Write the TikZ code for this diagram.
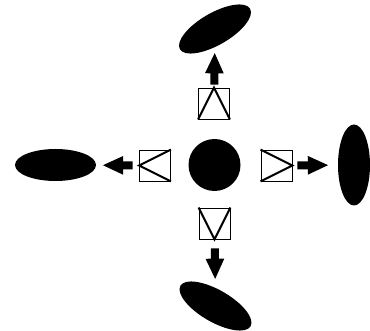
\documentclass[tikz,border=0pt]{standalone}
\usetikzlibrary{shapes.geometric,arrows.meta}
\begin{document}
\begin{tikzpicture}[x=1pt,y=-1pt,
  blob/.style={ellipse,fill=black,inner sep=0pt,minimum width=81pt,minimum height=32pt},
  box/.style={rectangle,draw=black,line width=0.9pt,minimum size=31pt,inner sep=0pt},
  tri/.style={line width=2pt,line join=miter},
  arr/.style={line width=8pt,-{Triangle[length=21pt,width=17pt]}}]
\useasboundingbox (0,0) rectangle (370,331);
\node[circle,fill=black,minimum size=52pt,inner sep=0pt] (c) at (214.5,165) {};
\node[box] (sqT) at (214,103.5) {};
\node[box] (sqL) at (155,165.5) {};
\node[box] (sqR) at (276.5,165.5) {};
\node[box] (sqB) at (214.5,223.5) {};
\draw[tri] (sqT.south west) -- (sqT.north) -- (sqT.south east);
\draw[tri] (sqL.north east) -- (sqL.west) -- (sqL.south east);
\draw[tri] (sqR.north west) -- (sqR.east) -- (sqR.south west);
\draw[tri] (sqB.north west) -- (sqB.south) -- (sqB.north east);
\node[blob,rotate=30] (eT) at (215,29) {};
\node[blob] (eL) at (55.5,165) {};
\node[blob,rotate=90] (eR) at (354,165) {};
\node[blob,rotate=-30] (eB) at (215.5,306) {};
\draw[arr,shorten <=3pt,shorten >=5pt] (sqT) -- (eT);
\draw[arr,shorten <=6.5pt,shorten >=6pt] (sqL) -- (eL);
\draw[arr,shorten <=5pt,shorten >=9pt] (sqR) -- (eR);
\draw[arr,shorten <=9pt,shorten >=8pt] (sqB) -- (eB);
\end{tikzpicture}
\end{document}
